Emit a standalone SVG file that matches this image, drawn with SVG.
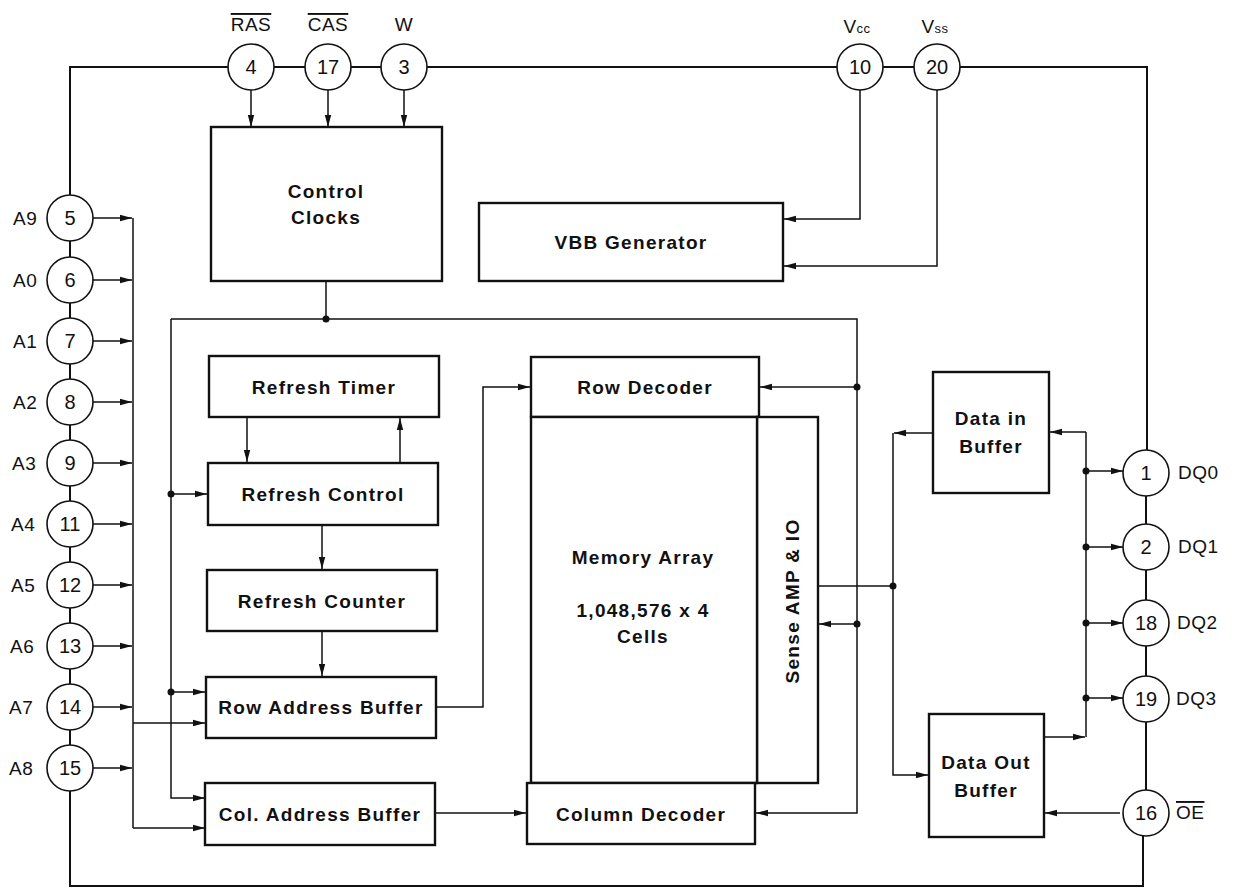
<svg xmlns="http://www.w3.org/2000/svg" width="1236" height="890" viewBox="0 0 1236 890">
<style>
.bx{fill:#fff;stroke:#111;stroke-width:2.4}
.ln{fill:none;stroke:#111;stroke-width:1.5}
.bus{fill:none;stroke:#111;stroke-width:2}
.pin{fill:#fff;stroke:#111;stroke-width:1.6}
.lbl{font-family:"Liberation Sans",Arial,sans-serif;font-weight:bold;font-size:19px;letter-spacing:1.3px;fill:#111;text-anchor:middle}
.num{font-family:"Liberation Sans",Arial,sans-serif;font-size:20px;fill:#111;text-anchor:middle}
.pl{font-family:"Liberation Sans",Arial,sans-serif;font-size:19px;fill:#111;letter-spacing:0.5px}
.dot{fill:#111}
</style>
<defs>
<marker id="ah" viewBox="0 0 12 8" refX="12" refY="4" markerWidth="12" markerHeight="8" markerUnits="userSpaceOnUse" orient="auto">
<path d="M0,0.8 L12,4 L0,7.2 Z" fill="#111"/>
</marker>
</defs>
<rect width="1236" height="890" fill="#fff"/>

<g id="connectors">
<path class="bus" d="M70,195 V67 H1147 V450"/>
<path class="bus" d="M70,791 V886 H1143 V836"/>
<path class="bus" d="M70,241 V257 M70,303 V318 M70,364 V379 M70,425 V440 M70,486 V501 M70,547 V562 M70,608 V623 M70,669 V684 M70,730 V745"/>
<path class="bus" d="M1146,496 V524 M1146,570 V600 M1146,646 V676 M1146,722 V790"/>
<path class="ln" d="M251,90 V127" marker-end="url(#ah)"/>
<path class="ln" d="M328,90 V127" marker-end="url(#ah)"/>
<path class="ln" d="M404,90 V127" marker-end="url(#ah)"/>
<path class="ln" d="M860,90 V219 H784" marker-end="url(#ah)"/>
<path class="ln" d="M937,90 V266 H784" marker-end="url(#ah)"/>
<path class="ln" d="M93,218 H132" marker-end="url(#ah)"/>
<path class="ln" d="M93,280 H132" marker-end="url(#ah)"/>
<path class="ln" d="M93,341 H132" marker-end="url(#ah)"/>
<path class="ln" d="M93,402 H132" marker-end="url(#ah)"/>
<path class="ln" d="M93,463 H132" marker-end="url(#ah)"/>
<path class="ln" d="M93,524 H132" marker-end="url(#ah)"/>
<path class="ln" d="M93,585 H132" marker-end="url(#ah)"/>
<path class="ln" d="M93,646 H132" marker-end="url(#ah)"/>
<path class="ln" d="M93,707 H132" marker-end="url(#ah)"/>
<path class="ln" d="M93,768 H132" marker-end="url(#ah)"/>
<path class="ln" d="M133,218 V828"/>
<path class="ln" d="M133,723 H205" marker-end="url(#ah)"/>
<path class="ln" d="M133,828 H205" marker-end="url(#ah)"/>
<path class="ln" d="M326,281 V319"/>
<path class="ln" d="M171,319 H857 V813 H756" marker-end="url(#ah)"/>
<path class="ln" d="M171,319 V798 H205" marker-end="url(#ah)"/>
<path class="ln" d="M171,494 H207" marker-end="url(#ah)"/>
<path class="ln" d="M171,692 H205" marker-end="url(#ah)"/>
<path class="ln" d="M857,387 H760" marker-end="url(#ah)"/>
<path class="ln" d="M857,624 H819" marker-end="url(#ah)"/>
<circle class="dot" cx="326" cy="319" r="3.5"/>
<circle class="dot" cx="171" cy="494" r="3.5"/>
<circle class="dot" cx="171" cy="692" r="3.5"/>
<circle class="dot" cx="857" cy="387" r="3.5"/>
<circle class="dot" cx="857" cy="624" r="3.5"/>
<path class="ln" d="M247,417 V462" marker-end="url(#ah)"/>
<path class="ln" d="M400,463 V418" marker-end="url(#ah)"/>
<path class="ln" d="M322,525 V569" marker-end="url(#ah)"/>
<path class="ln" d="M322,631 V676" marker-end="url(#ah)"/>
<path class="ln" d="M436,707 H483 V387 H530" marker-end="url(#ah)"/>
<path class="ln" d="M435,813 H526" marker-end="url(#ah)"/>
<path class="ln" d="M818,586 H893"/>
<path class="ln" d="M893,433 V775 H928" marker-end="url(#ah)"/>
<path class="ln" d="M933,433 H894" marker-end="url(#ah)"/>
<circle class="dot" cx="893" cy="586" r="3.5"/>
<path class="ln" d="M1086,432 H1050" marker-end="url(#ah)"/>
<path class="ln" d="M1086,432 V737"/>
<path class="ln" d="M1044,737 H1085" marker-end="url(#ah)"/>
<path class="ln" d="M1086,471 H1123" marker-end="url(#ah)"/>
<path class="ln" d="M1086,547 H1123" marker-end="url(#ah)"/>
<path class="ln" d="M1086,623 H1123" marker-end="url(#ah)"/>
<path class="ln" d="M1086,698 H1123" marker-end="url(#ah)"/>
<circle class="dot" cx="1086" cy="471" r="3.5"/>
<circle class="dot" cx="1086" cy="547" r="3.5"/>
<circle class="dot" cx="1086" cy="623" r="3.5"/>
<circle class="dot" cx="1086" cy="698" r="3.5"/>
<path class="ln" d="M1120,813 H1045" marker-end="url(#ah)"/>
</g>

<g id="control-clocks"><rect class="bx" x="211" y="127" width="231" height="154"/>
<text class="lbl" x="326" y="198">Control</text><text class="lbl" x="326" y="224">Clocks</text></g>
<g id="vbb-generator"><rect class="bx" x="479" y="203" width="304" height="78"/>
<text class="lbl" x="631" y="249">VBB Generator</text></g>
<g id="refresh-timer"><rect class="bx" x="209" y="356" width="230" height="61"/>
<text class="lbl" x="324" y="394">Refresh Timer</text></g>
<g id="refresh-control"><rect class="bx" x="208" y="463" width="230" height="62"/>
<text class="lbl" x="323" y="501">Refresh Control</text></g>
<g id="refresh-counter"><rect class="bx" x="207" y="570" width="230" height="61"/>
<text class="lbl" x="322" y="608">Refresh Counter</text></g>
<g id="row-address-buffer"><rect class="bx" x="206" y="677" width="230" height="61"/>
<text class="lbl" x="321" y="714">Row Address Buffer</text></g>
<g id="col-address-buffer"><rect class="bx" x="205" y="783" width="230" height="62"/>
<text class="lbl" x="320" y="821">Col. Address Buffer</text></g>
<g id="row-decoder"><rect class="bx" x="531" y="357" width="228" height="60"/>
<text class="lbl" x="645" y="394">Row Decoder</text></g>
<g id="sense-amp"><rect class="bx" x="757" y="417" width="61" height="366"/>
<text class="lbl" transform="translate(799,601) rotate(-90)" x="0" y="0">Sense AMP &amp; IO</text></g>
<g id="memory-array"><rect class="bx" x="531" y="417" width="226" height="366"/>
<text class="lbl" x="643" y="564">Memory Array</text>
<text class="lbl" x="643" y="617">1,048,576 x 4</text>
<text class="lbl" x="643" y="643">Cells</text></g>
<g id="column-decoder"><rect class="bx" x="527" y="783" width="228" height="61"/>
<text class="lbl" x="641" y="821">Column Decoder</text></g>
<g id="data-in-buffer"><rect class="bx" x="933" y="372" width="116" height="121"/>
<text class="lbl" x="991" y="425">Data in</text><text class="lbl" x="991" y="453">Buffer</text></g>
<g id="data-out-buffer"><rect class="bx" x="929" y="714" width="115" height="123"/>
<text class="lbl" x="986" y="769">Data Out</text><text class="lbl" x="986" y="797">Buffer</text></g>

<g id="pin-4"><circle class="pin" cx="251" cy="67" r="23"/><text class="num" x="251" y="74">4</text>
<text class="pl" x="251" y="31" text-anchor="middle" style="text-decoration:overline">RAS</text></g>
<g id="pin-17"><circle class="pin" cx="328" cy="67" r="23"/><text class="num" x="328" y="74">17</text>
<text class="pl" x="328" y="31" text-anchor="middle" style="text-decoration:overline">CAS</text></g>
<g id="pin-3"><circle class="pin" cx="404" cy="67" r="23"/><text class="num" x="404" y="74">3</text>
<text class="pl" x="404" y="31" text-anchor="middle">W</text></g>
<g id="pin-10"><circle class="pin" cx="860" cy="67" r="23"/><text class="num" x="860" y="74">10</text>
<text class="pl" x="857" y="33" text-anchor="middle">V<tspan font-size="13">cc</tspan></text></g>
<g id="pin-20"><circle class="pin" cx="937" cy="67" r="23"/><text class="num" x="937" y="74">20</text>
<text class="pl" x="935" y="33" text-anchor="middle">V<tspan font-size="13">ss</tspan></text></g>

<g id="pin-5"><circle class="pin" cx="70" cy="218" r="23"/><text class="num" x="70" y="225">5</text><text class="pl" x="13" y="225">A9</text></g>
<g id="pin-6"><circle class="pin" cx="70" cy="280" r="23"/><text class="num" x="70" y="287">6</text><text class="pl" x="13" y="287">A0</text></g>
<g id="pin-7"><circle class="pin" cx="70" cy="341" r="23"/><text class="num" x="70" y="348">7</text><text class="pl" x="13" y="348">A1</text></g>
<g id="pin-8"><circle class="pin" cx="70" cy="402" r="23"/><text class="num" x="70" y="409">8</text><text class="pl" x="13" y="409">A2</text></g>
<g id="pin-9"><circle class="pin" cx="70" cy="463" r="23"/><text class="num" x="70" y="470">9</text><text class="pl" x="12" y="470">A3</text></g>
<g id="pin-11"><circle class="pin" cx="70" cy="524" r="23"/><text class="num" x="70" y="531">11</text><text class="pl" x="11" y="531">A4</text></g>
<g id="pin-12"><circle class="pin" cx="70" cy="585" r="23"/><text class="num" x="70" y="592">12</text><text class="pl" x="11" y="592">A5</text></g>
<g id="pin-13"><circle class="pin" cx="70" cy="646" r="23"/><text class="num" x="70" y="653">13</text><text class="pl" x="10" y="653">A6</text></g>
<g id="pin-14"><circle class="pin" cx="70" cy="707" r="23"/><text class="num" x="70" y="714">14</text><text class="pl" x="9" y="714">A7</text></g>
<g id="pin-15"><circle class="pin" cx="70" cy="768" r="23"/><text class="num" x="70" y="775">15</text><text class="pl" x="9" y="775">A8</text></g>

<g id="pin-1"><circle class="pin" cx="1146" cy="473" r="23"/><text class="num" x="1146" y="480">1</text><text class="pl" x="1178" y="479">DQ0</text></g>
<g id="pin-2"><circle class="pin" cx="1146" cy="547" r="23"/><text class="num" x="1146" y="554">2</text><text class="pl" x="1178" y="553">DQ1</text></g>
<g id="pin-18"><circle class="pin" cx="1146" cy="623" r="23"/><text class="num" x="1146" y="630">18</text><text class="pl" x="1177" y="629">DQ2</text></g>
<g id="pin-19"><circle class="pin" cx="1146" cy="699" r="23"/><text class="num" x="1146" y="706">19</text><text class="pl" x="1176" y="705">DQ3</text></g>
<g id="pin-16"><circle class="pin" cx="1146" cy="813" r="23"/><text class="num" x="1146" y="820">16</text><text class="pl" x="1176" y="819" style="text-decoration:overline">OE</text></g>
</svg>
